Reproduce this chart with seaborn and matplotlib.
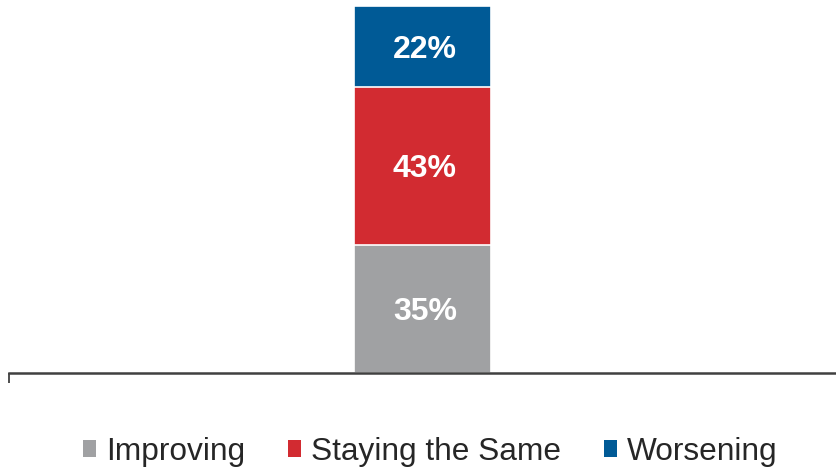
import matplotlib
matplotlib.use("Agg")
import matplotlib.pyplot as plt
from matplotlib.patches import Patch
import numpy as np
import pandas as pd
import seaborn as sns

categories = ["Improving", "Staying the Same", "Worsening"]
values = [35, 43, 22]
colors = ["#A0A1A3", "#D22B31", "#005A96"]
group = ["All"]

sns.set_theme(style="white")
plt.rcParams["font.family"] = ["Liberation Sans", "DejaVu Sans"]

fig = plt.figure(figsize=(8.36, 4.69), dpi=100)
ax = fig.add_axes([9 / 836, 96 / 469, 827 / 836, 367 / 469])

cum = np.cumsum(values)
df = pd.DataFrame({"group": group * len(values), "segment": categories,
                   "top": cum})

# stacked bar: draw cumulative totals from the tallest down
for i in reversed(range(len(categories))):
    sub = df[df["segment"] == categories[i]]
    sns.barplot(data=sub, x="group", y="top", color=colors[i], width=0.166,
                saturation=1, edgecolor="white", linewidth=1.2, ax=ax)

for i, v in enumerate(values):
    mid = cum[i] - v / 2
    ax.text(0.003, mid, f"{v}%", ha="center", va="center_baseline",
            color="white", fontsize=23, fontweight="bold")

ax.set_xlim(-0.5, 0.5)
ax.set_ylim(0, 100)
ax.set_xlabel("")
ax.set_ylabel("")
ax.set_yticks([])
ax.set_xticks([-0.5])
ax.set_xticklabels([""])
ax.tick_params(axis="x", bottom=True, direction="out", length=7.5,
               width=1.3, color="#404040")
for s in ["left", "right", "top"]:
    ax.spines[s].set_visible(False)
ax.spines["bottom"].set_color("#404040")
ax.spines["bottom"].set_linewidth(1.8)

handles = [Patch(facecolor=c, edgecolor="none", label=l)
           for c, l in zip(colors, categories)]
fig.legend(handles=handles, loc="center", bbox_to_anchor=(430 / 836, 1 - 452 / 469),
           ncol=3, frameon=False, fontsize=22.8, handlelength=0.43,
           handleheight=0.43, handletextpad=0.3, columnspacing=1.35)

fig.savefig("out.png", dpi=100)
